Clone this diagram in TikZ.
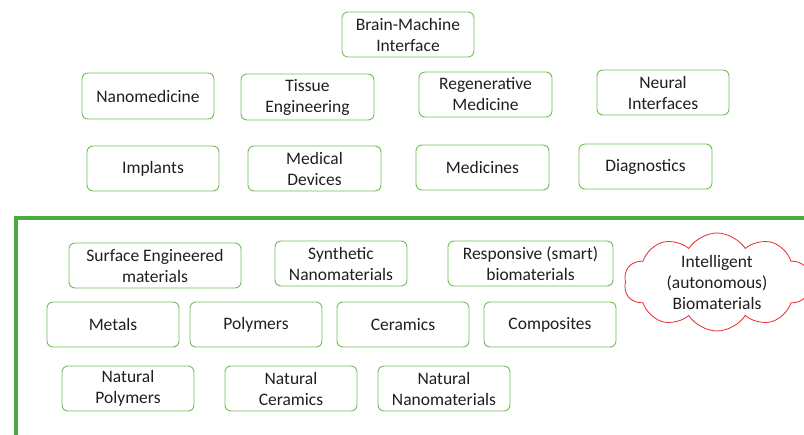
\documentclass[tikz,border=0pt]{standalone}
\usepackage{fontspec}
\setmainfont{Carlito}
\usetikzlibrary{shapes.symbols}
\definecolor{boxgreen}{RGB}{112,190,90}
\definecolor{framegreen}{RGB}{70,172,60}
\definecolor{cloudred}{RGB}{235,40,45}
\tikzset{
  tile/.style={draw=boxgreen, line width=0.9pt, rounded corners=6pt, fill=white,
    align=center, font=\fontsize{17.5}{21}\selectfont, text=black!88, inner sep=0pt},
}
\newcommand{\tile}[6]{% name, x1, y1, x2, y2, text
  \node[tile, minimum width={#4-#2}, minimum height={#5-#3}]
    (#1) at ({(#2+#4)/2},{(#3+#5)/2}) {#6};}
\begin{document}
\begin{tikzpicture}[x=1pt,y=-1pt]
\useasboundingbox (0,0) rectangle (804,435);
% application boxes
\tile{bmi}{342}{12}{474}{57}{Brain-Machine\\Interface}
\tile{nano}{82}{73}{214}{119}{Nanomedicine}
\tile{tissue}{241}{74}{374}{120}{Tissue\\Engineering}
\tile{regen}{419}{72}{552}{117}{Regenerative\\Medicine}
\tile{neural}{597}{70}{729}{115}{Neural\\Interfaces}
\tile{implants}{87}{146}{219}{191}{Implants}
\tile{devices}{248}{146}{381}{191}{Medical\\Devices}
\tile{medicines}{416}{145}{549}{190}{Medicines}
\tile{diag}{579}{144}{712}{189}{Diagnostics}
% materials frame
\draw[framegreen, line width=4.5pt] (16,437) -- (16,218) -- (806,218);
% material boxes
\tile{surface}{69}{243}{241}{288}{Surface Engineered\\materials}
\tile{synth}{275}{241}{407}{286}{Synthetic\\Nanomaterials}
\tile{resp}{448}{241}{613}{286}{Responsive (smart)\\biomaterials}
\tile{metals}{47}{302}{179}{347}{Metals}
\tile{polymers}{190}{302}{322}{347}{Polymers}
\tile{ceramics}{337}{302}{469}{347}{Ceramics}
\tile{composites}{484}{302}{616}{347}{Composites}
\tile{natpoly}{62}{366}{194}{411}{Natural\\Polymers}
\tile{natcer}{225}{366}{357}{411}{Natural\\Ceramics}
\tile{natnano}{378}{366}{510}{411}{Natural\\Nanomaterials}
\node[cloud, cloud puffs=10, cloud puff arc=115, aspect=1.9, draw=cloudred, line width=0.8pt,
  minimum width=186pt, minimum height=98pt, align=center, inner sep=0pt,
  font=\fontsize{17.5}{21}\selectfont, text=black!88]
  (intel) at (717,282) {Intelligent\\(autonomous)\\Biomaterials};
\end{tikzpicture}
\end{document}
